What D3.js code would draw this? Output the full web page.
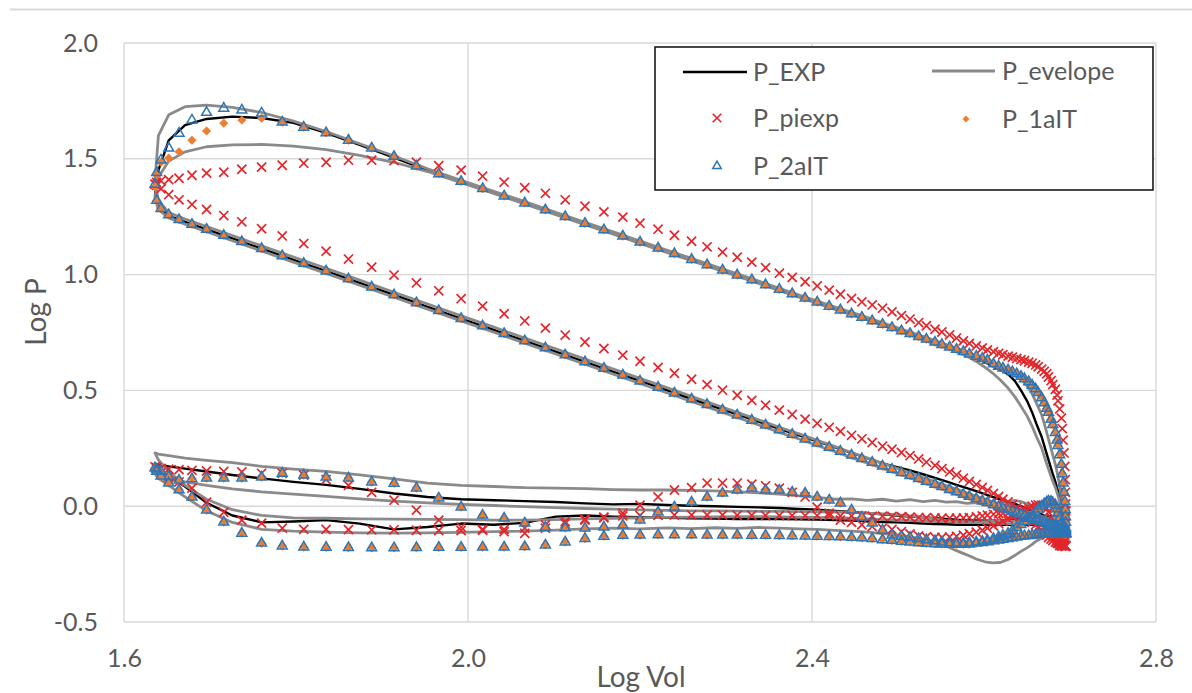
<!DOCTYPE html>
<html>
<head>
<meta charset="utf-8">
<script src="https://cdn.jsdelivr.net/npm/d3@7"></script>
<style>
  html, body { margin: 0; padding: 0; background: #ffffff; }
  svg { display: block; font-family: Lato, "Open Sans", "DejaVu Sans", sans-serif; }
</style>
</head>
<body>
<svg id="chart" width="1192" height="693"></svg>
<script>
// ---------------------------------------------------------------------------
// Log of cylinder volume over one stroke (TDC -> BDC).
// Marker series are sampled every 2 deg of crank angle (91 values, 0..180 deg),
// the two line series every 3 deg (61 values, 0..180 deg).
const strokeLogVol = [
  1.636,1.638,1.643,1.652,1.664,1.679,1.696,1.716,1.737,1.760,
  1.784,1.809,1.835,1.861,1.888,1.914,1.940,1.966,1.992,2.017,
  2.042,2.066,2.090,2.113,2.136,2.158,2.180,2.200,2.221,2.240,
  2.260,2.278,2.296,2.313,2.330,2.346,2.362,2.377,2.392,2.406,
  2.420,2.433,2.446,2.458,2.470,2.482,2.493,2.504,2.514,2.524,
  2.533,2.543,2.551,2.560,2.568,2.576,2.583,2.591,2.598,2.604,
  2.611,2.617,2.622,2.628,2.633,2.638,2.643,2.647,2.652,2.656,
  2.660,2.663,2.667,2.670,2.673,2.675,2.678,2.680,2.683,2.685,
  2.686,2.688,2.690,2.691,2.692,2.693,2.694,2.6945,2.6947,2.6949,
  2.695
];
const lineStrokeLogVol = [
  1.636,1.640,1.652,1.671,1.696,1.726,1.760,1.797,1.835,1.874,
  1.914,1.953,1.992,2.030,2.066,2.102,2.136,2.169,2.200,2.231,
  2.259,2.287,2.313,2.338,2.362,2.385,2.406,2.427,2.446,2.464,
  2.482,2.498,2.514,2.529,2.543,2.556,2.568,2.580,2.591,2.601,
  2.610,2.619,2.628,2.636,2.643,2.650,2.656,2.661,2.667,2.671,
  2.675,2.679,2.683,2.686,2.688,2.690,2.692,2.693,2.6945,2.6948,
  2.695
];

// Log of cylinder pressure over one cycle, stroke by stroke:
// compression (BDC -> TDC), expansion (TDC -> BDC), exhaust (BDC -> TDC), intake (TDC -> BDC).

// ---- line series (3 deg) ----
const pExp = [
  // compression
  -0.080,-0.080,-0.079,-0.078,-0.077,-0.075,-0.073,-0.070,-0.066,-0.060,
  -0.052,-0.044,-0.035,-0.027,-0.019,-0.010,0.000,0.010,0.020,0.030,
  0.040,0.052,0.065,0.078,0.092,0.107,0.122,0.138,0.155,0.170,
  0.185,0.208,0.230,0.254,0.280,0.306,0.334,0.365,0.396,0.429,
  0.464,0.501,0.541,0.580,0.623,0.667,0.714,0.761,0.810,0.861,
  0.912,0.964,1.015,1.064,1.112,1.156,1.195,1.228,1.255,1.285,
  // expansion
  1.340,1.450,1.580,1.645,1.672,1.682,1.676,1.655,1.612,1.560,
  1.505,1.450,1.400,1.352,1.307,1.261,1.218,1.177,1.137,1.098,
  1.063,1.028,0.995,0.964,0.933,0.904,0.878,0.852,0.829,0.807,
  0.784,0.764,0.744,0.724,0.705,0.686,0.670,0.655,0.640,0.622,
  0.605,0.588,0.570,0.540,0.500,0.455,0.405,0.355,0.300,0.250,
  0.200,0.150,0.105,0.065,0.030,0.005,-0.015,-0.028,-0.035,-0.038,
  // exhaust
  -0.040,-0.040,-0.040,-0.040,-0.040,-0.040,-0.040,-0.041,-0.042,-0.043,
  -0.044,-0.046,-0.048,-0.050,-0.052,-0.054,-0.056,-0.058,-0.060,-0.062,
  -0.063,-0.063,-0.062,-0.060,-0.058,-0.055,-0.052,-0.048,-0.045,-0.040,
  -0.035,-0.030,-0.025,-0.020,-0.015,-0.012,-0.008,-0.005,-0.003,0.000,
  0.002,0.005,0.010,0.008,0.012,0.018,0.022,0.026,0.030,0.040,
  0.055,0.075,0.092,0.105,0.120,0.135,0.150,0.162,0.172,0.180,
  // intake
  0.180,0.160,0.130,0.085,0.015,-0.040,-0.070,-0.066,-0.060,-0.075,
  -0.100,-0.090,-0.075,-0.080,-0.072,-0.045,-0.040,-0.045,-0.048,-0.050,
  -0.052,-0.053,-0.055,-0.055,-0.056,-0.057,-0.058,-0.060,-0.062,-0.065,
  -0.068,-0.070,-0.072,-0.075,-0.077,-0.078,-0.080,-0.080,-0.080,-0.080,
  -0.080,-0.080,-0.080,-0.080,-0.080,-0.080,-0.080,-0.080,-0.080,-0.080,
  -0.080,-0.080,-0.080,-0.080,-0.080,-0.080,-0.080,-0.080,-0.080,-0.080
];

// Upper bound of the cycle-to-cycle pressure envelope.
const pEnvelopeHigh = [
  // compression
  -0.060,-0.060,-0.060,-0.060,-0.060,-0.060,-0.060,-0.060,-0.058,-0.055,
  -0.052,-0.048,-0.044,-0.038,-0.033,-0.027,-0.020,-0.012,-0.002,0.008,
  0.019,0.031,0.044,0.058,0.074,0.089,0.106,0.124,0.144,0.165,
  0.185,0.209,0.232,0.257,0.284,0.312,0.341,0.373,0.405,0.439,
  0.475,0.512,0.552,0.592,0.635,0.679,0.726,0.773,0.822,0.873,
  0.924,0.976,1.027,1.076,1.124,1.168,1.207,1.240,1.268,1.320,
  // expansion
  1.400,1.600,1.690,1.725,1.732,1.722,1.700,1.663,1.618,1.565,
  1.512,1.457,1.407,1.360,1.315,1.269,1.226,1.185,1.145,1.106,
  1.071,1.036,1.003,0.972,0.941,0.912,0.886,0.860,0.837,0.815,
  0.792,0.772,0.752,0.733,0.715,0.698,0.682,0.666,0.650,0.635,
  0.618,0.605,0.590,0.572,0.550,0.520,0.485,0.445,0.395,0.345,
  0.290,0.235,0.180,0.130,0.085,0.045,0.012,-0.008,-0.018,-0.022,
  // exhaust
  -0.022,-0.022,-0.022,-0.022,-0.022,-0.022,-0.022,-0.022,-0.022,-0.020,
  -0.018,-0.015,-0.010,-0.005,0.000,0.010,0.020,0.025,0.020,0.015,
  0.010,0.005,0.015,0.012,0.020,0.018,0.025,0.020,0.028,0.022,
  0.030,0.025,0.032,0.030,0.038,0.045,0.052,0.058,0.062,0.066,
  0.068,0.070,0.070,0.072,0.076,0.078,0.080,0.085,0.090,0.100,
  0.118,0.135,0.150,0.160,0.172,0.188,0.198,0.208,0.218,0.225,
  // intake
  0.230,0.200,0.150,0.090,0.030,-0.015,-0.040,-0.050,-0.052,-0.055,
  -0.056,-0.057,-0.058,-0.060,-0.060,-0.058,-0.055,-0.052,-0.050,-0.048,
  -0.047,-0.046,-0.045,-0.045,-0.046,-0.047,-0.048,-0.050,-0.052,-0.055,
  -0.058,-0.060,-0.062,-0.064,-0.066,-0.067,-0.068,-0.068,-0.068,-0.067,
  -0.066,-0.065,-0.064,-0.063,-0.062,-0.062,-0.061,-0.061,-0.060,-0.060,
  -0.060,-0.060,-0.060,-0.060,-0.060,-0.060,-0.060,-0.060,-0.060,-0.060
];

// Lower bound of the cycle-to-cycle pressure envelope.
const pEnvelopeLow = [
  // compression
  -0.110,-0.110,-0.110,-0.110,-0.109,-0.107,-0.104,-0.102,-0.098,-0.093,
  -0.088,-0.082,-0.077,-0.069,-0.063,-0.055,-0.046,-0.037,-0.026,-0.015,
  -0.003,0.009,0.022,0.036,0.052,0.067,0.084,0.102,0.122,0.143,
  0.163,0.187,0.210,0.235,0.262,0.290,0.319,0.351,0.383,0.417,
  0.453,0.490,0.530,0.570,0.613,0.657,0.704,0.751,0.800,0.851,
  0.902,0.954,1.005,1.054,1.102,1.146,1.185,1.218,1.245,1.280,
  // expansion
  1.330,1.420,1.490,1.530,1.552,1.560,1.562,1.555,1.540,1.515,
  1.485,1.445,1.397,1.350,1.305,1.259,1.216,1.175,1.135,1.096,
  1.061,1.026,0.993,0.962,0.931,0.902,0.876,0.850,0.827,0.804,
  0.781,0.760,0.739,0.718,0.700,0.683,0.667,0.648,0.625,0.600,
  0.575,0.545,0.510,0.472,0.432,0.390,0.345,0.300,0.252,0.205,
  0.160,0.118,0.080,0.046,0.018,-0.005,-0.020,-0.028,-0.032,-0.034,
  // exhaust
  -0.034,-0.034,-0.035,-0.036,-0.038,-0.040,-0.042,-0.045,-0.048,-0.052,
  -0.056,-0.060,-0.064,-0.067,-0.070,-0.072,-0.074,-0.075,-0.075,-0.074,
  -0.073,-0.072,-0.070,-0.068,-0.066,-0.062,-0.055,-0.048,-0.042,-0.037,
  -0.033,-0.030,-0.027,-0.025,-0.024,-0.023,-0.022,-0.022,-0.021,-0.020,
  -0.020,-0.018,-0.016,-0.013,-0.010,-0.006,-0.002,0.003,0.008,0.014,
  0.022,0.032,0.042,0.052,0.062,0.075,0.090,0.105,0.125,0.140,
  // intake
  0.140,0.120,0.090,0.040,-0.020,-0.070,-0.100,-0.108,-0.112,-0.115,
  -0.116,-0.115,-0.113,-0.110,-0.108,-0.103,-0.098,-0.095,-0.098,-0.094,
  -0.097,-0.093,-0.096,-0.092,-0.095,-0.098,-0.100,-0.104,-0.108,-0.112,
  -0.118,-0.124,-0.132,-0.142,-0.155,-0.172,-0.192,-0.210,-0.228,-0.240,
  -0.245,-0.243,-0.230,-0.212,-0.195,-0.180,-0.165,-0.150,-0.138,-0.128,
  -0.120,-0.115,-0.112,-0.111,-0.110,-0.110,-0.110,-0.110,-0.110,-0.110
];

// ---- marker series (2 deg) ----
const pPiexp = [
  // compression
  -0.172,-0.172,-0.171,-0.170,-0.169,-0.167,-0.165,-0.162,-0.158,-0.153,
  -0.148,-0.142,-0.135,-0.127,-0.119,-0.110,-0.101,-0.092,-0.082,-0.071,
  -0.061,-0.050,-0.039,-0.028,-0.017,-0.006,0.006,0.018,0.030,0.042,
  0.055,0.068,0.081,0.094,0.107,0.121,0.135,0.148,0.162,0.176,
  0.190,0.204,0.218,0.232,0.246,0.259,0.275,0.291,0.306,0.323,
  0.340,0.358,0.376,0.396,0.415,0.436,0.457,0.479,0.501,0.525,
  0.548,0.574,0.599,0.626,0.652,0.681,0.709,0.739,0.769,0.800,
  0.831,0.864,0.896,0.930,0.964,0.998,1.032,1.067,1.101,1.134,
  1.167,1.198,1.228,1.255,1.281,1.303,1.323,1.345,1.370,1.385,
  // expansion
  1.390,1.398,1.405,1.410,1.416,1.429,1.438,1.442,1.455,1.464,
  1.472,1.481,1.485,1.494,1.494,1.492,1.485,1.470,1.451,1.425,
  1.399,1.375,1.351,1.323,1.295,1.271,1.248,1.222,1.196,1.170,
  1.144,1.120,1.097,1.075,1.054,1.030,1.006,0.988,0.969,0.951,
  0.933,0.915,0.897,0.882,0.869,0.855,0.839,0.823,0.808,0.793,
  0.779,0.764,0.752,0.740,0.726,0.714,0.703,0.692,0.683,0.675,
  0.667,0.660,0.654,0.648,0.643,0.638,0.633,0.628,0.622,0.617,
  0.610,0.602,0.592,0.582,0.572,0.558,0.542,0.525,0.505,0.480,
  0.455,0.420,0.380,0.335,0.285,0.230,0.172,0.115,0.060,0.010,
  // exhaust
  -0.020,-0.045,-0.075,-0.100,-0.125,-0.145,-0.160,-0.170,-0.172,-0.170,
  -0.160,-0.140,-0.110,-0.078,-0.050,-0.025,-0.010,0.000,0.005,0.006,
  0.004,0.000,-0.007,-0.015,-0.025,-0.035,-0.045,-0.055,-0.065,-0.075,
  -0.085,-0.095,-0.104,-0.112,-0.119,-0.125,-0.130,-0.133,-0.135,-0.135,
  -0.133,-0.128,-0.120,-0.110,-0.100,-0.095,-0.088,-0.080,-0.070,-0.060,
  -0.030,-0.004,0.040,0.060,0.078,0.088,0.095,0.100,0.100,0.100,
  0.080,0.070,0.040,0.004,-0.030,-0.050,-0.060,-0.075,-0.095,-0.117,
  -0.110,-0.100,-0.090,-0.060,-0.017,0.026,0.060,0.090,0.115,0.134,
  0.142,0.142,0.148,0.150,0.152,0.155,0.158,0.160,0.163,0.166,
  // intake
  0.170,0.160,0.145,0.125,0.105,0.078,0.017,-0.026,-0.060,-0.073,
  -0.095,-0.100,-0.100,-0.101,-0.102,-0.102,-0.104,-0.105,-0.105,-0.104,
  -0.100,-0.094,-0.080,-0.066,-0.055,-0.047,-0.042,-0.040,-0.039,-0.038,
  -0.038,-0.038,-0.038,-0.039,-0.039,-0.040,-0.040,-0.040,-0.041,-0.041,
  -0.041,-0.042,-0.042,-0.042,-0.043,-0.043,-0.044,-0.045,-0.047,-0.049,
  -0.050,-0.051,-0.052,-0.052,-0.052,-0.051,-0.050,-0.046,-0.042,-0.039,
  -0.035,-0.032,-0.030,-0.030,-0.032,-0.036,-0.045,-0.052,-0.060,-0.070,
  -0.080,-0.090,-0.105,-0.115,-0.125,-0.135,-0.142,-0.148,-0.155,-0.158,
  -0.160,-0.163,-0.166,-0.168,-0.170,-0.170,-0.171,-0.172,-0.172,-0.172
];

const p1alT = [
  // compression
  -0.118,-0.117,-0.115,-0.113,-0.111,-0.108,-0.106,-0.103,-0.100,-0.098,
  -0.095,-0.092,-0.089,-0.086,-0.082,-0.078,-0.074,-0.071,-0.067,-0.062,
  -0.057,-0.053,-0.048,-0.042,-0.036,-0.030,-0.023,-0.016,-0.009,-0.002,
  0.006,0.015,0.023,0.032,0.042,0.051,0.062,0.072,0.084,0.094,
  0.107,0.119,0.132,0.145,0.159,0.173,0.189,0.205,0.220,0.237,
  0.254,0.272,0.290,0.310,0.329,0.350,0.371,0.393,0.415,0.439,
  0.462,0.488,0.513,0.540,0.566,0.595,0.623,0.653,0.683,0.714,
  0.745,0.778,0.810,0.844,0.878,0.912,0.946,0.981,1.015,1.048,
  1.081,1.112,1.142,1.169,1.195,1.217,1.237,1.258,1.285,1.320,
  // expansion
  1.380,1.430,1.485,1.503,1.530,1.580,1.620,1.654,1.667,1.675,
  1.658,1.636,1.612,1.580,1.546,1.510,1.468,1.435,1.402,1.371,
  1.339,1.309,1.279,1.250,1.221,1.193,1.166,1.140,1.114,1.090,
  1.065,1.042,1.019,0.998,0.977,0.956,0.936,0.917,0.898,0.881,
  0.863,0.847,0.830,0.815,0.800,0.785,0.771,0.757,0.745,0.732,
  0.721,0.708,0.698,0.687,0.677,0.667,0.657,0.647,0.638,0.630,
  0.614,0.604,0.596,0.588,0.580,0.571,0.560,0.550,0.537,0.522,
  0.506,0.490,0.468,0.446,0.422,0.405,0.375,0.352,0.318,0.285,
  0.262,0.222,0.180,0.140,0.100,0.060,0.020,-0.015,-0.045,-0.070,
  // exhaust
  -0.095,-0.102,-0.107,-0.110,-0.110,-0.108,-0.100,-0.088,-0.072,-0.050,
  -0.030,-0.012,0.005,0.015,0.020,0.022,0.018,0.010,0.000,-0.013,
  -0.027,-0.040,-0.053,-0.067,-0.080,-0.093,-0.106,-0.118,-0.126,-0.133,
  -0.140,-0.147,-0.152,-0.155,-0.158,-0.160,-0.160,-0.158,-0.155,-0.150,
  -0.145,-0.140,-0.135,-0.130,-0.125,-0.104,-0.073,-0.047,-0.017,0.013,
  0.026,0.039,0.056,0.060,0.069,0.069,0.078,0.069,0.056,0.039,
  0.017,-0.004,-0.026,-0.060,-0.082,-0.090,-0.095,-0.094,-0.091,-0.073,
  -0.052,-0.039,-0.004,0.035,0.078,0.099,0.104,0.121,0.125,0.134,
  0.142,0.125,0.121,0.121,0.121,0.118,0.112,0.128,0.150,0.160,
  // intake
  0.165,0.150,0.130,0.100,0.070,0.039,-0.017,-0.069,-0.117,-0.160,
  -0.172,-0.177,-0.178,-0.179,-0.180,-0.180,-0.179,-0.178,-0.178,-0.177,
  -0.177,-0.175,-0.168,-0.155,-0.140,-0.130,-0.126,-0.125,-0.124,-0.124,
  -0.124,-0.125,-0.125,-0.125,-0.126,-0.126,-0.127,-0.128,-0.129,-0.130,
  -0.131,-0.133,-0.135,-0.137,-0.140,-0.145,-0.148,-0.152,-0.155,-0.158,
  -0.161,-0.163,-0.164,-0.165,-0.165,-0.165,-0.164,-0.160,-0.157,-0.154,
  -0.150,-0.147,-0.143,-0.140,-0.137,-0.134,-0.130,-0.128,-0.127,-0.125,
  -0.124,-0.123,-0.122,-0.121,-0.121,-0.120,-0.120,-0.120,-0.120,-0.120,
  -0.120,-0.120,-0.120,-0.120,-0.120,-0.120,-0.120,-0.120,-0.120,-0.120
];

const p2alT = [
  // compression
  -0.118,-0.117,-0.115,-0.113,-0.111,-0.108,-0.106,-0.103,-0.100,-0.098,
  -0.095,-0.092,-0.089,-0.086,-0.082,-0.078,-0.074,-0.071,-0.067,-0.062,
  -0.057,-0.053,-0.048,-0.042,-0.036,-0.030,-0.023,-0.016,-0.009,-0.002,
  0.006,0.015,0.023,0.032,0.042,0.051,0.062,0.072,0.084,0.094,
  0.107,0.119,0.132,0.145,0.159,0.173,0.189,0.205,0.220,0.237,
  0.254,0.272,0.290,0.310,0.329,0.350,0.371,0.393,0.415,0.439,
  0.462,0.488,0.513,0.540,0.566,0.595,0.623,0.653,0.683,0.714,
  0.745,0.778,0.810,0.844,0.878,0.912,0.946,0.981,1.015,1.048,
  1.081,1.112,1.142,1.169,1.195,1.217,1.237,1.258,1.285,1.320,
  // expansion
  1.390,1.440,1.494,1.546,1.610,1.667,1.700,1.718,1.710,1.697,
  1.658,1.636,1.612,1.580,1.546,1.510,1.468,1.435,1.402,1.371,
  1.339,1.309,1.279,1.250,1.221,1.193,1.166,1.140,1.114,1.090,
  1.065,1.042,1.019,0.998,0.977,0.956,0.936,0.917,0.898,0.881,
  0.863,0.847,0.830,0.815,0.800,0.785,0.771,0.757,0.745,0.732,
  0.721,0.708,0.698,0.687,0.677,0.667,0.657,0.647,0.638,0.630,
  0.614,0.604,0.596,0.588,0.580,0.571,0.560,0.550,0.537,0.522,
  0.506,0.490,0.468,0.446,0.422,0.405,0.375,0.352,0.318,0.285,
  0.262,0.222,0.180,0.140,0.100,0.060,0.020,-0.015,-0.045,-0.070,
  // exhaust
  -0.095,-0.102,-0.107,-0.110,-0.110,-0.108,-0.100,-0.088,-0.072,-0.050,
  -0.030,-0.012,0.005,0.015,0.020,0.022,0.018,0.010,0.000,-0.013,
  -0.027,-0.040,-0.053,-0.067,-0.080,-0.093,-0.106,-0.118,-0.126,-0.133,
  -0.140,-0.147,-0.152,-0.155,-0.158,-0.160,-0.160,-0.158,-0.155,-0.150,
  -0.145,-0.140,-0.135,-0.130,-0.125,-0.104,-0.073,-0.047,-0.017,0.013,
  0.026,0.039,0.056,0.060,0.069,0.069,0.078,0.069,0.056,0.039,
  0.017,-0.004,-0.026,-0.060,-0.082,-0.090,-0.095,-0.094,-0.091,-0.073,
  -0.052,-0.039,-0.004,0.035,0.078,0.099,0.104,0.121,0.125,0.134,
  0.142,0.125,0.121,0.121,0.121,0.118,0.112,0.128,0.150,0.160,
  // intake
  0.165,0.150,0.130,0.100,0.070,0.039,-0.017,-0.069,-0.117,-0.160,
  -0.172,-0.177,-0.178,-0.179,-0.180,-0.180,-0.179,-0.178,-0.178,-0.177,
  -0.177,-0.175,-0.168,-0.155,-0.140,-0.130,-0.126,-0.125,-0.124,-0.124,
  -0.124,-0.125,-0.125,-0.125,-0.126,-0.126,-0.127,-0.128,-0.129,-0.130,
  -0.131,-0.133,-0.135,-0.137,-0.140,-0.145,-0.148,-0.152,-0.155,-0.158,
  -0.161,-0.163,-0.164,-0.165,-0.165,-0.165,-0.164,-0.160,-0.157,-0.154,
  -0.150,-0.147,-0.143,-0.140,-0.137,-0.134,-0.130,-0.128,-0.127,-0.125,
  -0.124,-0.123,-0.122,-0.121,-0.121,-0.120,-0.120,-0.120,-0.120,-0.120,
  -0.120,-0.120,-0.120,-0.120,-0.120,-0.120,-0.120,-0.120,-0.120,-0.120
];

const xTickValues = [1.6, 2.0, 2.4, 2.8];
const yTickValues = [-0.5, 0.0, 0.5, 1.0, 1.5, 2.0];
const xAxisTitle = "Log Vol";
const yAxisTitle = "Log P";
const legendNames = ["P_EXP", "P_evelope", "P_piexp", "P_1aIT", "P_2aIT"];

// ---------------------------------------------------------------------------
// Expand a one-stroke volume array into the four strokes of a cycle.
function cycleVolumes(stroke) {
  const n = stroke.length - 1, out = [];
  for (let s = 0; s < 4; s++) {
    for (let k = 0; k < n; k++) out.push(stroke[s % 2 === 0 ? n - k : k]);
  }
  return out;
}
const markerVol = cycleVolumes(strokeLogVol);
const lineVol = cycleVolumes(lineStrokeLogVol);
const toPoints = (vol, p) => vol.map((v, i) => [v, p[i]]).filter(d => d[1] != null);

const svg = d3.select("#chart");
const W = 1192;
const plot = { left: 124, right: 1156, top: 43, bottom: 622 };

const x = d3.scaleLinear().domain([1.6, 2.8]).range([plot.left, plot.right]);
const y = d3.scaleLinear().domain([-0.5, 2.0]).range([plot.bottom, plot.top]);

const textColor = "#595959";
const gridColor = "#d9d9d9";

// Outer chart border (top edge)
svg.append("line")
  .attr("x1", 10).attr("x2", W).attr("y1", 9.5).attr("y2", 9.5)
  .attr("stroke", gridColor).attr("stroke-width", 2);

// Gridlines
const grid = svg.append("g");
grid.selectAll("line.h").data(yTickValues).join("line")
  .attr("class", "h")
  .attr("x1", plot.left).attr("x2", plot.right)
  .attr("y1", d => y(d)).attr("y2", d => y(d))
  .attr("stroke", gridColor).attr("stroke-width", 1.4);
grid.selectAll("line.v").data(xTickValues).join("line")
  .attr("class", "v")
  .attr("y1", plot.top).attr("y2", plot.bottom)
  .attr("x1", d => x(d)).attr("x2", d => x(d))
  .attr("stroke", gridColor).attr("stroke-width", 1.4);

// Axes (labels only)
const fmt = d => d.toFixed(1);
const yAxis = svg.append("g")
  .attr("transform", `translate(${plot.left},0)`)
  .call(d3.axisLeft(y).tickValues(yTickValues).tickSize(0).tickPadding(26).tickFormat(fmt));
const xAxis = svg.append("g")
  .attr("transform", `translate(0,${plot.bottom})`)
  .call(d3.axisBottom(x).tickValues(xTickValues).tickSize(0).tickPadding(27).tickFormat(fmt));
[xAxis, yAxis].forEach(g => {
  g.select(".domain").remove();
  g.selectAll("text")
    .attr("fill", textColor)
    .style("font-size", "25px")
    .style("font-family", "Lato, 'Open Sans', sans-serif");
});

svg.append("text")
  .attr("x", (plot.left + plot.right) / 2 + 1).attr("y", 687)
  .attr("text-anchor", "middle")
  .attr("fill", textColor).style("font-size", "28px")
  .text(xAxisTitle);
svg.append("text")
  .attr("transform", "translate(46,312) rotate(-90)")
  .attr("text-anchor", "middle")
  .attr("fill", textColor).style("font-size", "28px")
  .text(yAxisTitle);

// Marker shapes (with fallbacks for older symbol sets)
const timesType = d3.symbolTimes || { draw(c, size) { const r = Math.sqrt(size) * 0.6; c.moveTo(-r, -r); c.lineTo(r, r); c.moveTo(-r, r); c.lineTo(r, -r); } };
const diamondType = d3.symbolDiamond2 || { draw(c, size) { const r = Math.sqrt(size) * 0.626; c.moveTo(0, -r); c.lineTo(r, 0); c.lineTo(0, r); c.lineTo(-r, 0); c.closePath(); } };
const triangleType = d3.symbolTriangle2 || { draw(c, size) { const s = Math.sqrt(size) * 0.6824, t = s / 2, u = s * Math.sqrt(3) / 2; c.moveTo(0, -s); c.lineTo(u, t); c.lineTo(-u, t); c.closePath(); } };

const red = "#e2262b", orange = "#ed7d31", blue = "#2e75b6";
const black = "#000000", gray = "#8a8a8a";

const symTimes = d3.symbol().type(timesType).size(56);
const symDiamond = d3.symbol().type(diamondType).size(46);
const symTriangle = d3.symbol().type(triangleType).size(70);

const line = d3.line().x(d => x(d[0])).y(d => y(d[1])).curve(d3.curveLinearClosed);

const dataLayer = svg.append("g");

// P_EXP
dataLayer.append("path").datum(toPoints(lineVol, pExp))
  .attr("d", line).attr("fill", "none")
  .attr("stroke", black).attr("stroke-width", 2.4).attr("stroke-linejoin", "round");

// P_evelope (upper and lower bounds)
[pEnvelopeHigh, pEnvelopeLow].forEach(p => {
  dataLayer.append("path").datum(toPoints(lineVol, p))
    .attr("d", line).attr("fill", "none")
    .attr("stroke", gray).attr("stroke-width", 2.8).attr("stroke-linejoin", "round");
});

// P_piexp
dataLayer.append("g").selectAll("path").data(toPoints(markerVol, pPiexp)).join("path")
  .attr("transform", d => `translate(${x(d[0])},${y(d[1])})`)
  .attr("d", symTimes).attr("fill", "none")
  .attr("stroke", red).attr("stroke-width", 1.7);

// P_1aIT
dataLayer.append("g").selectAll("path").data(toPoints(markerVol, p1alT)).join("path")
  .attr("transform", d => `translate(${x(d[0])},${y(d[1])})`)
  .attr("d", symDiamond).attr("fill", orange).attr("stroke", orange).attr("stroke-width", 0.6);

// P_2aIT
dataLayer.append("g").selectAll("path").data(toPoints(markerVol, p2alT)).join("path")
  .attr("transform", d => `translate(${x(d[0])},${y(d[1])})`)
  .attr("d", symTriangle).attr("fill", "none")
  .attr("stroke", blue).attr("stroke-width", 1.5);

// Legend
const legend = svg.append("g");
legend.append("rect")
  .attr("x", 655).attr("y", 47).attr("width", 498).attr("height", 143)
  .attr("fill", "#ffffff").attr("stroke", "#1a1a1a").attr("stroke-width", 1.6);

const legendItems = [
  { name: legendNames[0], kind: "line", color: black, width: 2.6, sx: 683, ex: 747, cy: 72, tx: 753 },
  { name: legendNames[1], kind: "line", color: gray, width: 2.8, sx: 932, ex: 995, cy: 71, tx: 1002 },
  { name: legendNames[2], kind: "times", cx: 717, cy: 118, tx: 753 },
  { name: legendNames[3], kind: "diamond", cx: 966, cy: 119, tx: 1002 },
  { name: legendNames[4], kind: "triangle", cx: 717, cy: 166, tx: 753 }
];
legendItems.forEach(it => {
  if (it.kind === "line") {
    legend.append("line")
      .attr("x1", it.sx).attr("x2", it.ex).attr("y1", it.cy).attr("y2", it.cy)
      .attr("stroke", it.color).attr("stroke-width", it.width);
  } else if (it.kind === "times") {
    legend.append("path").attr("transform", `translate(${it.cx},${it.cy})`)
      .attr("d", d3.symbol().type(timesType).size(50)).attr("fill", "none")
      .attr("stroke", red).attr("stroke-width", 1.6);
  } else if (it.kind === "diamond") {
    legend.append("path").attr("transform", `translate(${it.cx},${it.cy})`)
      .attr("d", d3.symbol().type(diamondType).size(30)).attr("fill", orange);
  } else {
    legend.append("path").attr("transform", `translate(${it.cx},${it.cy})`)
      .attr("d", d3.symbol().type(triangleType).size(52)).attr("fill", "none")
      .attr("stroke", blue).attr("stroke-width", 1.5);
  }
  legend.append("text")
    .attr("x", it.tx).attr("y", it.cy).attr("dy", "0.35em")
    .attr("fill", textColor).style("font-size", "25px")
    .text(it.name);
});
</script>
</body>
</html>
